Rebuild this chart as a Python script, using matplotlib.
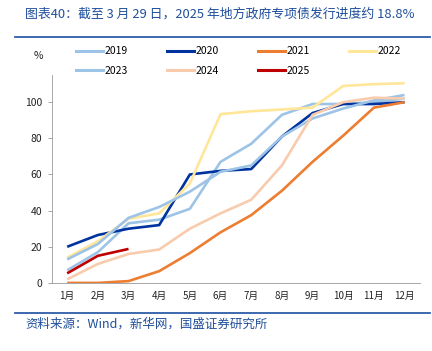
import matplotlib.pyplot as plt
from matplotlib.lines import Line2D

plt.rcParams['font.family'] = ['Noto Sans CJK SC', 'DejaVu Sans']

months = ['1月', '2月', '3月', '4月', '5月', '6月', '7月', '8月', '9月', '10月', '11月', '12月']
y2019 = [7, 17, 33, 35, 41, 67, 77, 93, 99, 99, 100, 102]
y2020 = [20, 26.5, 30, 32, 60, 62, 63, 81, 94, 99, 99, 100]
y2021 = [0, 0, 1, 6.5, 16.5, 28, 37.5, 51, 67, 81.5, 97, 100]
y2022 = [14, 23, 35.5, 38.5, 55, 93.4, 95, 96, 97, 109, 110, 110.5]
y2023 = [13, 21.5, 36, 42, 50.5, 61.5, 65, 81, 91, 96.5, 101, 104]
y2024 = [2, 10.5, 16, 18.5, 30, 38.5, 46, 65, 93, 100, 102.5, 102]
y2025 = [5.3, 15, 18.8]

series = [
    ('2019', y2019, '#9DC3E6'),
    ('2020', y2020, '#0033A0'),
    ('2021', y2021, '#ED7D31'),
    ('2022', y2022, '#FFE699'),
    ('2023', y2023, '#9DC3E6'),
    ('2024', y2024, '#F8CBAD'),
    ('2025', y2025, '#C00000'),
]

blue = '#1F4E9C'

fig = plt.figure(figsize=(4.32, 3.51), dpi=100)
ax = fig.add_axes([0.120, 0.194, 0.852, 0.592])

x = list(range(1, 13))
for name, vals, col in series:
    ax.plot(x[:len(vals)], vals, color=col, lw=1.9, solid_capstyle='butt')

ax.set_xlim(0.5, 12.5)
ax.set_ylim(0, 115)
ax.set_yticks([0, 20, 40, 60, 80, 100])
ax.set_xticks(x)
ax.set_xticklabels(months)
ax.tick_params(axis='x', length=0, pad=6, labelsize=7, colors='#222222')
ax.tick_params(axis='y', length=3, width=0.6, color='#999999', pad=4,
               labelsize=7.5, labelcolor='#222222')
for s in ['top', 'right']:
    ax.spines[s].set_visible(False)
ax.spines['left'].set_color('#999999')
ax.spines['bottom'].set_color('#999999')
ax.spines['left'].set_linewidth(0.6)
ax.spines['bottom'].set_linewidth(0.6)

# legend laid out row by row (matplotlib fills columns first)
order = [0, 4, 1, 5, 2, 6, 3]
handles = [Line2D([], [], color=series[i][2], lw=2.2) for i in order]
labels = [series[i][0] for i in order]
leg = fig.legend(handles, labels, ncol=4, loc='upper left',
                 bbox_to_anchor=(0.155, 0.895), frameon=False,
                 fontsize=7.5, handlelength=2.6, handletextpad=0.15,
                 columnspacing=3.75, labelspacing=0.95)

fig.text(0.088, 0.840, '%', fontsize=7.5, ha='center', va='center', color='#222222')

# title, rules and source
fig.text(0.058, 0.960, '图表40：截至 3 月 29 日，2025 年地方政府专项债发行进度约 18.8%',
         fontsize=9.3, color=blue, style='italic', va='center')
fig.add_artist(Line2D([0.035, 0.995], [0.894, 0.894], color='#2E5DA8', lw=1.3))
fig.add_artist(Line2D([0.035, 0.995], [0.108, 0.108], color='#2E5DA8', lw=1.3))
fig.text(0.058, 0.077, '资料来源：Wind，新华网，国盛证券研究所',
         fontsize=9, color=blue, style='italic', va='center')

fig.savefig('out.png', dpi=100)
